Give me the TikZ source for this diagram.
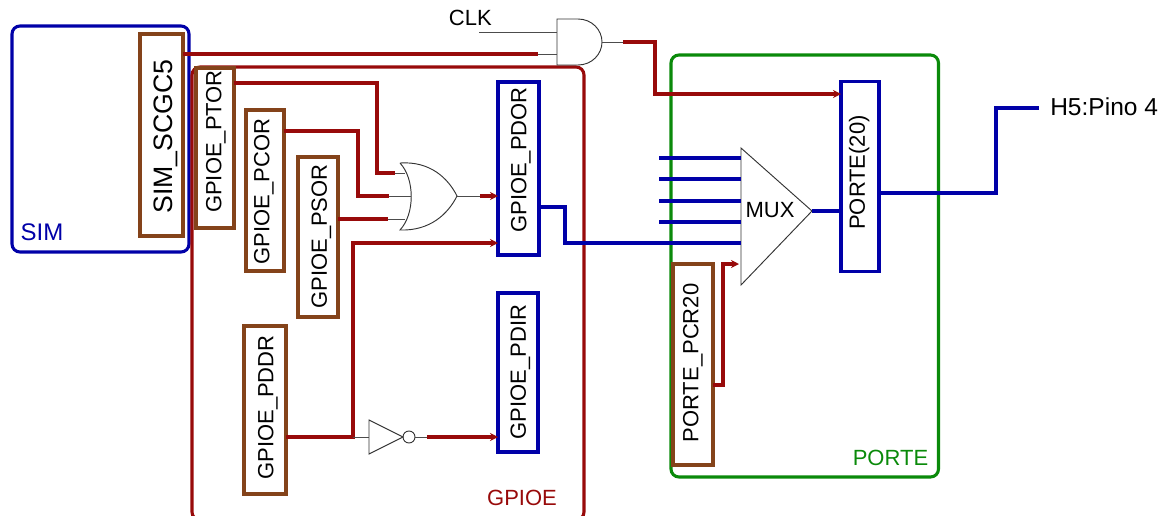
\documentclass[tikz,border=0pt]{standalone}
\usepackage{fontspec}
\setmainfont{Liberation Sans}
\usetikzlibrary{positioning,arrows.meta}
\definecolor{wirered}{HTML}{980A0A}
\definecolor{regbrown}{HTML}{84431A}
\definecolor{regblue}{HTML}{0000A8}
\definecolor{portgreen}{HTML}{0A8A0A}
\tikzset{
  brownreg/.style={draw=regbrown,line width=2.3pt,inner sep=0pt,outer sep=0pt},
  bluereg/.style={brownreg,draw=regblue},
  regtext/.style={rotate=90,inner sep=0pt,text height=11.8pt,text depth=0pt,font=\fontsize{16.5}{18}\selectfont},
  block/.style={rounded corners=6pt,line width=2.3pt},
  redwire/.style={draw=wirered,line width=2.3pt},
  bluewire/.style={draw=regblue,line width=2.3pt},
  redarrow/.style={redwire,-{Stealth[length=6pt,width=6pt]}},
  pin/.style={draw=black!70,line width=.7pt},
  gate/.style={draw=black!80,line width=.7pt},
  txt/.style={inner sep=0pt,font=\fontsize{16.5}{18}\selectfont}
}
\begin{document}
\begin{tikzpicture}[x=.75pt,y=-.75pt]
\useasboundingbox (0,0) rectangle (1165,515);
\clip (0,0) rectangle (1165,515);
% blocks
\draw[block,draw=regblue] (12,26) rectangle (189,252);
\draw[block,draw=wirered] (192,67) rectangle (584,520);
\draw[block,draw=portgreen] (671,55) rectangle (938.5,477);
\node[txt,text=regblue] (simlabel) at (42,232) {\fontsize{18}{20}\selectfont SIM};
\node[txt,text=wirered] (gpiolabel) at (522,498) {GPIOE};
\node[txt,text=portgreen] (portlabel) at (890.5,458) {PORTE};
% registers
\node[brownreg,minimum width=32.25pt,minimum height=151.5pt] (scgc) at (161.5,135) {};
\node[brownreg,minimum width=28.5pt,minimum height=120pt] (ptor) at (215,148) {};
\node[brownreg,minimum width=28.5pt,minimum height=120.75pt] (pcor) at (265,190.5) {};
\node[brownreg,minimum width=30pt,minimum height=120pt] (psor) at (318,237) {};
\node[brownreg,minimum width=31.5pt,minimum height=126pt] (pddr) at (265,410) {};
\node[bluereg,minimum width=30.75pt,minimum height=129.75pt] (pdor) at (518.5,168.5) {};
\node[bluereg,minimum width=30pt,minimum height=119.25pt] (pdir) at (518,372.5) {};
\node[bluereg,minimum width=28.5pt,minimum height=142.5pt] (porte) at (860,176.5) {};
\node[brownreg,minimum width=30pt,minimum height=150.75pt] (pcr) at (693,364.5) {};
% register names
\node[regtext,text height=14.3pt,font=\fontsize{20}{22}\selectfont] (scgctext) at (162.5,136.5) {SIM\_SCGC5};
\node[regtext] (ptortext) at (213.5,141.5) {GPIOE\_PTOR};
\node[regtext] (pcortext) at (261.5,191.5) {GPIOE\_PCOR};
\node[regtext] (psortext) at (319,236.5) {GPIOE\_PSOR};
\node[regtext] (pddrtext) at (265.5,407.5) {GPIOE\_PDDR};
\node[regtext] (pdortext) at (518.5,160) {GPIOE\_PDOR};
\node[regtext] (pdirtext) at (518,372) {GPIOE\_PDIR};
\node[regtext] (portetext) at (857,172.5) {PORTE(20)};
\node[regtext] (pcrtext) at (690.5,363) {PORTE\_PCR20};
% gates
\coordinate (andin1) at (557,32);
\coordinate (andin2) at (557,54);
\coordinate (andout) at (602,42);
\draw[gate] (557,19) -- (578,19) .. controls (592,19) and (602,30) .. (andout)
  .. controls (602,54) and (592,65) .. (578,65) -- (557,65) -- cycle;
\coordinate (orin1) at (405,173);
\coordinate (orin2) at (411,196);
\coordinate (orin3) at (405,219);
\coordinate (orout) at (457,196);
\draw[gate] (400,163) .. controls (430,161) and (448,178) .. (orout)
  .. controls (448,214) and (430,231) .. (400,230)
  .. controls (415,214) and (415,179) .. (400,163);
\coordinate (notin) at (369,437);
\draw[gate] (notin |- 0,420) -- (notin |- 0,454) -- (403,437) -- cycle;
\node[circle,gate,minimum size=9pt,inner sep=0pt] (bubble) at (409,437) {};
% mux
\coordinate (muxout) at (812,211);
\draw[gate] (741,148) -- (741,285) -- (muxout) -- cycle;
\node[txt] (muxlabel) at (770,210) {MUX};
% free ends
\coordinate (clkend) at (479,32);
\node[txt,anchor=east] (clk) at (492,18) {CLK};
\node[txt,anchor=west,font=\fontsize{18.4}{20}\selectfont] (pino) at (1050,107) {H5:Pino 4};
\coordinate (pinoend) at (1039,108);
% wires
\draw[pin] (clkend) -- (andin1);
\draw[pin] (538,54) -- (andin2);
\draw[pin] (andout) -- (623,42);
\draw[redwire] (scgc.east |- andin2) -- (538,54);
\draw[redarrow] (623,42) -- (655,42) -- (655,94) -- (porte.west |- 0,94);
\draw[pin] (395,173) -- (orin1);
\draw[pin] (389,196) -- (orin2);
\draw[pin] (388,219) -- (orin3);
\draw[pin] (orout) -- (480,196);
\draw[redwire] (ptor.east |- 0,83) -- (377,83) -- (377,173) -- (395,173);
\draw[redwire] (pcor.east |- 0,131) -- (358,131) -- (358,196) -- (389,196);
\draw[redwire] (psor.east |- 0,219) -- (388,219);
\draw[redarrow] (480,196) -- (pdor.west |- 0,196);
\draw[redarrow] (pddr.east |- notin) -- (353,437) -- (353,243) -- (pdor.west |- 0,243);
\draw[pin] (353,437) -- (notin);
\draw[pin] (bubble.east) -- (427,437);
\draw[redarrow] (427,437) -- (pdir.west |- notin);
\draw[redarrow] (pcr.east |- 0,385) -- (723,385) -- (723,264) -- (739,264);
\draw[bluewire] (pdor.east |- 0,207) -- (565,207) -- (565,243) -- (741,243);
\foreach \y in {158,179,201,222}
  \draw[bluewire] (659,\y) -- (741,\y);
\draw[bluewire] (muxout) -- (porte.west |- muxout);
\draw[bluewire] (porte.east |- 0,193) -- (996,193) -- (996,108) -- (pinoend);
\end{tikzpicture}
\end{document}
